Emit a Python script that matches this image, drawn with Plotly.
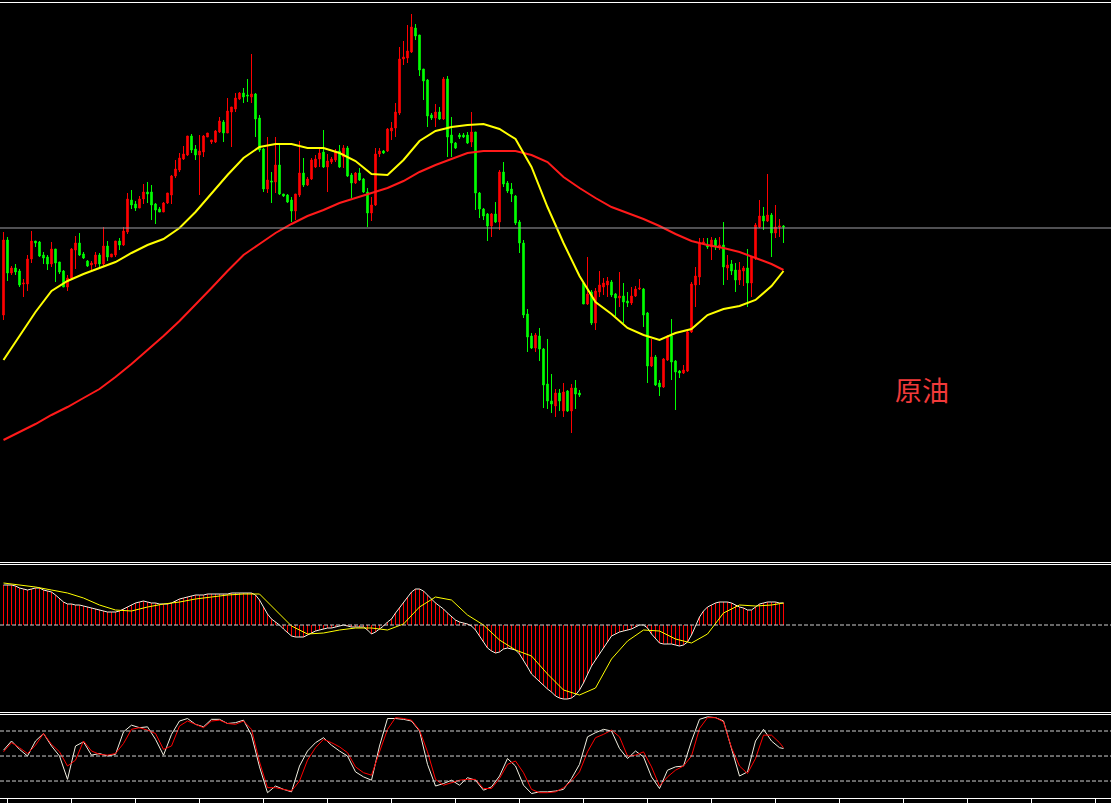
import plotly.graph_objects as go

# Data

candle_open = [
    68.5, 76.0, 72.7, 73.2, 72.9, 71.6, 71.6, 74.1, 75.9, 75.8,
    74.5, 74.3, 73.6, 75.1, 73.8, 72.9, 71.3, 72.2, 75.0, 75.7,
    74.6, 73.9, 73.5, 73.6, 74.5, 73.6, 75.4, 74.3, 74.5, 75.9,
    75.5, 76.8, 80.0, 79.6, 79.2, 80.1, 80.8, 80.8, 79.6, 79.1,
    78.8, 79.7, 80.5, 82.4, 83.0, 84.1, 84.5, 86.4, 85.1, 84.5,
    84.8, 86.3, 85.8, 85.8, 86.8, 87.8, 86.7, 88.8, 89.1, 90.1,
    90.7, 90.5, 90.3, 90.6, 88.2, 85.1, 81.1, 81.9, 81.8, 83.5,
    80.6, 80.5, 80.0, 78.9, 80.5, 82.7, 81.5, 82.1, 83.3, 84.1,
    84.8, 83.3, 83.8, 84.0, 84.9, 84.3, 85.2, 82.5, 81.7, 82.7,
    82.1, 80.8, 78.7, 79.5, 84.6, 84.9, 84.9, 86.9, 87.2, 88.7,
    94.1, 94.2, 94.8, 97.2, 96.5, 93.1, 92.0, 88.5, 88.2, 88.8,
    88.1, 92.1, 86.5, 85.7, 86.5, 86.5, 86.5, 85.8, 86.8, 80.7,
    79.1, 78.6, 77.4, 78.6, 77.8, 82.8, 81.7, 81.1, 80.4, 77.8,
    75.7, 68.6, 66.4, 65.2, 66.4, 65.1, 61.6, 59.9, 59.4, 60.7,
    58.9, 60.9, 58.9, 61.2, 60.7, 71.7, 69.6, 70.8, 67.7, 70.8,
    71.3, 71.5, 71.8, 70.6, 70.2, 70.4, 69.9, 69.7, 70.4, 71.1,
    71.1, 68.7, 63.4, 64.3, 61.7, 61.3, 64.0, 66.4, 63.9, 62.9,
    62.7, 62.9, 66.8, 71.5, 72.3, 75.7, 75.5, 75.3, 76.0, 75.3,
    75.5, 73.2, 73.6, 73.0, 72.0, 72.9, 73.2, 71.7, 74.2, 77.3,
    78.4, 77.9, 78.5, 76.7, 77.3, 77.4,
]
candle_high = [
    76.8, 76.3, 73.4, 73.6, 73.1, 72.1, 74.5, 76.9, 75.9, 75.9,
    74.8, 74.5, 75.8, 75.1, 73.8, 73.0, 72.5, 75.2, 76.4, 76.7,
    74.8, 74.0, 73.9, 74.8, 74.7, 77.3, 75.9, 74.6, 75.9, 76.2,
    77.3, 80.7, 81.0, 79.9, 80.4, 81.6, 81.8, 81.5, 79.7, 79.3,
    79.8, 80.7, 82.5, 84.0, 84.7, 85.4, 86.4, 86.6, 85.5, 86.5,
    86.5, 86.7, 86.0, 87.0, 88.3, 88.0, 90.2, 89.3, 90.7, 90.8,
    91.2, 92.1, 94.6, 90.7, 88.5, 85.2, 86.3, 82.8, 86.3, 85.7,
    80.6, 80.6, 80.3, 80.6, 85.9, 84.2, 82.3, 84.2, 84.5, 85.3,
    87.0, 84.6, 84.3, 85.1, 85.5, 85.5, 85.4, 82.7, 82.8, 83.2,
    82.2, 81.2, 80.3, 85.2, 85.2, 85.0, 87.2, 87.8, 89.7, 95.3,
    95.9, 97.5, 98.6, 97.6, 96.5, 93.1, 92.1, 88.7, 89.6, 89.3,
    92.3, 92.4, 88.3, 85.8, 86.7, 86.7, 86.8, 88.8, 86.8, 80.8,
    79.2, 78.7, 78.7, 79.8, 83.0, 83.8, 81.9, 81.7, 80.5, 78.0,
    76.0, 69.1, 66.7, 66.7, 67.2, 65.2, 66.1, 62.6, 61.1, 61.1,
    61.7, 61.0, 61.6, 62.0, 61.0, 71.8, 74.3, 71.0, 71.2, 72.9,
    72.2, 72.3, 72.0, 70.7, 72.8, 71.7, 70.8, 71.3, 71.4, 72.1,
    71.2, 68.8, 66.1, 64.5, 62.0, 64.2, 66.5, 68.1, 64.0, 63.0,
    63.5, 67.0, 71.8, 73.3, 76.2, 76.2, 76.2, 76.3, 76.2, 76.3,
    77.8, 74.5, 74.0, 73.7, 73.8, 73.4, 75.1, 74.4, 77.7, 80.0,
    79.3, 82.6, 78.7, 79.5, 78.1, 77.5,
]
candle_low = [
    68.0, 71.9, 72.5, 72.5, 71.3, 70.3, 70.9, 73.7, 75.3, 74.3,
    73.6, 73.0, 73.3, 71.8, 72.6, 71.3, 70.9, 72.0, 73.1, 74.4,
    74.1, 73.3, 72.9, 73.3, 73.2, 73.3, 73.9, 74.3, 74.3, 75.0,
    75.4, 76.6, 79.1, 78.9, 79.2, 79.6, 79.7, 78.0, 77.6, 78.8,
    78.8, 79.6, 79.6, 82.2, 82.8, 84.0, 84.4, 84.7, 84.0, 80.5,
    84.3, 86.3, 85.6, 85.7, 86.7, 85.8, 86.7, 85.3, 88.8, 90.0,
    89.7, 89.8, 89.7, 86.3, 84.8, 80.8, 80.7, 79.7, 80.7, 80.5,
    80.3, 79.7, 77.8, 78.0, 80.3, 81.3, 81.4, 82.0, 83.2, 83.3,
    83.2, 80.8, 83.6, 83.8, 83.2, 83.2, 82.3, 80.2, 81.6, 81.9,
    80.7, 77.3, 77.9, 79.4, 84.3, 84.6, 84.8, 86.0, 86.3, 88.5,
    93.5, 93.7, 94.7, 96.0, 92.4, 90.0, 87.3, 88.0, 87.3, 88.0,
    88.0, 84.3, 84.3, 85.1, 86.1, 86.2, 85.6, 85.3, 79.0, 78.2,
    78.0, 75.9, 76.3, 77.7, 77.0, 81.3, 80.7, 79.8, 77.5, 74.7,
    68.2, 64.8, 65.1, 64.8, 63.9, 59.2, 59.1, 58.7, 58.3, 58.9,
    58.3, 58.8, 56.7, 59.1, 60.3, 69.6, 69.5, 67.5, 67.0, 70.3,
    70.5, 70.3, 70.3, 68.4, 69.3, 67.7, 69.3, 69.5, 70.3, 71.0,
    67.3, 61.7, 63.3, 61.4, 60.4, 61.2, 63.9, 62.0, 59.0, 62.2,
    62.6, 62.8, 66.7, 69.3, 71.5, 75.6, 75.1, 74.0, 75.0, 75.0,
    71.5, 72.0, 72.5, 70.8, 71.5, 71.4, 69.3, 70.3, 74.0, 77.2,
    77.0, 77.8, 74.3, 76.2, 76.3, 75.7,
]
candle_close = [
    76.0, 72.7, 73.2, 72.8, 71.5, 71.7, 74.1, 75.9, 75.7, 74.4,
    74.2, 73.6, 75.1, 73.7, 72.8, 71.3, 72.2, 75.1, 75.7, 74.5,
    74.2, 73.4, 73.7, 74.5, 73.6, 75.4, 74.3, 74.6, 75.9, 75.5,
    76.9, 80.1, 79.5, 79.2, 80.1, 80.8, 80.6, 79.5, 79.0, 78.8,
    79.7, 80.7, 82.4, 83.1, 84.2, 84.6, 86.4, 85.0, 84.5, 84.9,
    86.4, 86.7, 86.0, 86.9, 87.9, 86.7, 88.9, 89.3, 90.2, 90.7,
    90.3, 90.4, 90.6, 88.1, 85.0, 81.1, 82.0, 81.8, 83.5, 80.6,
    80.4, 79.8, 78.9, 80.6, 82.7, 81.5, 82.1, 84.0, 84.1, 84.7,
    83.3, 83.9, 84.1, 84.9, 83.3, 85.2, 82.4, 81.7, 82.7, 82.0,
    80.8, 78.7, 79.5, 84.6, 84.9, 84.7, 87.1, 87.2, 88.8, 94.1,
    94.3, 94.9, 97.3, 96.4, 93.0, 91.9, 88.4, 88.2, 88.8, 88.1,
    92.1, 86.3, 85.7, 85.2, 86.3, 86.3, 85.7, 86.8, 80.7, 79.1,
    78.4, 77.4, 78.6, 77.8, 82.8, 81.6, 80.9, 80.6, 77.7, 75.7,
    68.5, 66.3, 65.2, 66.5, 65.1, 61.5, 59.9, 59.6, 60.7, 59.9,
    60.8, 58.9, 61.2, 60.6, 60.5, 69.6, 70.6, 67.7, 70.9, 71.5,
    71.7, 71.9, 70.5, 70.2, 70.4, 69.8, 69.7, 70.4, 71.1, 71.2,
    68.5, 63.4, 64.3, 61.5, 61.3, 64.1, 66.4, 63.8, 62.8, 62.7,
    63.0, 66.8, 71.6, 72.4, 75.7, 75.8, 75.3, 76.0, 75.3, 75.5,
    73.3, 73.5, 72.9, 72.0, 73.0, 73.2, 71.7, 74.3, 77.5, 78.4,
    77.9, 78.5, 76.7, 77.3, 77.4, 77.3,
]
bars = list(range(len(candle_close)))
bid_level = 77.2

# moving averages, read every 4th bar
ma_bars = list(range(0, 193, 4)) + [195]
ma_fast = [
    64.0, 66.4, 68.8, 70.9, 71.9, 72.6, 73.2, 73.8, 74.7, 75.5,
    76.1, 77.2, 78.8, 80.7, 82.5, 84.2, 85.3, 85.6, 85.6, 85.2,
    85.2, 84.7, 83.9, 82.6, 82.5, 84.0, 85.9, 86.9, 87.3, 87.5,
    87.6, 87.1, 86.1, 83.3, 79.3, 75.7, 72.4, 69.8, 68.6, 67.2,
    66.5, 66.0, 66.7, 67.1, 68.5, 69.1, 69.4, 70.0, 71.4, 72.9,
]
ma_slow = [
    56.0, 56.8, 57.6, 58.5, 59.3, 60.2, 61.1, 62.3, 63.6, 65.0,
    66.4, 67.9, 69.5, 71.2, 72.9, 74.5, 75.6, 76.7, 77.6, 78.4,
    79.0, 79.7, 80.2, 80.7, 81.2, 81.9, 82.8, 83.5, 84.1, 84.7,
    84.9, 84.9, 84.9, 84.5, 83.8, 82.3, 81.2, 80.2, 79.3, 78.7,
    78.1, 77.4, 76.6, 75.9, 75.5, 75.2, 74.8, 74.2, 73.6, 73.0,
]

# MACD main (every bar) and signal (every 4th bar)
macd_main = [
    0.40, 0.40, 0.40, 0.39, 0.37, 0.36, 0.35, 0.36, 0.37, 0.37,
    0.35, 0.34, 0.33, 0.30, 0.26, 0.23, 0.21, 0.21, 0.20, 0.20,
    0.19, 0.18, 0.17, 0.16, 0.15, 0.14, 0.13, 0.13, 0.13, 0.14,
    0.16, 0.18, 0.20, 0.22, 0.23, 0.24, 0.23, 0.22, 0.22, 0.21,
    0.21, 0.21, 0.22, 0.24, 0.26, 0.27, 0.28, 0.29, 0.30, 0.30,
    0.30, 0.31, 0.31, 0.31, 0.31, 0.31, 0.31, 0.32, 0.32, 0.32,
    0.32, 0.32, 0.32, 0.30, 0.25, 0.18, 0.11, 0.06, 0.03, 0.00,
    -0.04, -0.08, -0.11, -0.12, -0.12, -0.12, -0.10, -0.08, -0.06, -0.05,
    -0.04, -0.03, -0.03, -0.02, -0.01, 0.00, -0.01, -0.02, -0.02, -0.02,
    -0.02, -0.05, -0.09, -0.07, -0.04, -0.01, 0.03, 0.06, 0.12, 0.17,
    0.22, 0.28, 0.33, 0.36, 0.36, 0.34, 0.30, 0.25, 0.22, 0.19,
    0.16, 0.12, 0.08, 0.05, 0.03, 0.02, 0.01, -0.01, -0.05, -0.11,
    -0.17, -0.23, -0.26, -0.28, -0.27, -0.24, -0.23, -0.24, -0.25, -0.29,
    -0.35, -0.42, -0.49, -0.53, -0.56, -0.60, -0.64, -0.67, -0.71, -0.73,
    -0.74, -0.74, -0.73, -0.70, -0.65, -0.58, -0.50, -0.41, -0.35, -0.29,
    -0.23, -0.17, -0.11, -0.09, -0.07, -0.06, -0.05, -0.04, -0.02, 0.00,
    0.00, -0.03, -0.09, -0.14, -0.18, -0.19, -0.19, -0.19, -0.20, -0.21,
    -0.20, -0.17, -0.10, -0.01, 0.08, 0.14, 0.18, 0.20, 0.22, 0.23,
    0.23, 0.23, 0.22, 0.20, 0.18, 0.17, 0.15, 0.15, 0.18, 0.21,
    0.22, 0.23, 0.23, 0.23, 0.22, 0.22,
]
macd_signal = [
    0.42, 0.40, 0.38, 0.35, 0.32, 0.27, 0.20, 0.15, 0.14, 0.18,
    0.21, 0.23, 0.26, 0.28, 0.30, 0.31, 0.31, 0.15, -0.01, -0.09,
    -0.08, -0.05, -0.03, -0.03, -0.05, 0.01, 0.18, 0.28, 0.25, 0.10,
    0.00, -0.15, -0.25, -0.31, -0.49, -0.65, -0.70, -0.63, -0.34, -0.16,
    -0.05, -0.06, -0.14, -0.18, -0.09, 0.12, 0.20, 0.19, 0.20, 0.22,
]

# Stochastic %K / %D, read every 2nd bar
stoch_bars = list(range(0, 195, 2)) + [195]
stoch_k = [
    57, 68, 58, 50, 68, 77, 62, 50, 22, 62, 67, 51, 53, 50, 52, 79, 87, 84, 85, 70,
    51, 76, 92, 95, 88, 85, 94, 94, 89, 90, 93, 75, 37, 6, 14, 10, 7, 38, 56, 66,
    72, 63, 56, 50, 31, 25, 21, 62, 95,
    95, 94, 92, 80, 40, 14, 17, 21, 15, 24, 21, 9, 13, 26, 47, 38, 15, 5, 7, 7,
    8, 10, 23, 40, 73, 78, 82, 80, 59, 47, 56, 49, 25, 11, 33, 37, 38, 68, 94, 97,
    96, 92, 60, 26, 31, 68, 82, 68, 60, 59,
]
stoch_d = [
    55, 66, 60, 53, 63, 77, 64, 55, 38, 45, 68, 56, 52, 51, 53, 65, 82, 84, 81, 77,
    58, 62, 86, 92, 88, 84, 92, 93, 89, 88, 92, 82, 43, 12, 12, 10, 8, 20, 45, 60,
    70, 66, 61, 54, 37, 30, 27, 55, 82,
    96, 95, 93, 81, 55, 22, 15, 18, 21, 22, 22, 11, 11, 23, 40, 44, 30, 10, 6, 6,
    7, 12, 20, 31, 55, 72, 76, 81, 73, 50, 51, 55, 37, 14, 25, 33, 38, 50, 83, 96,
    96, 91, 60, 38, 29, 47, 75, 75, 66, 60,
]
stoch_levels = [20, 50, 80]

# Figure
W, H = 1111, 803
x_range = [-0.875, 276.875]
grid_col = '#cfcfcf'
level_dash = '4px,2px'

fig = go.Figure()

fig.add_trace(go.Candlestick(x=bars, open=candle_open, high=candle_high,
                             low=candle_low, close=candle_close,
                             increasing=dict(line=dict(color='#ff0000', width=1), fillcolor='#ff0000'),
                             decreasing=dict(line=dict(color='#00ff00', width=1), fillcolor='#00ff00'),
                             whiskerwidth=0, xaxis='x', yaxis='y'))
fig.add_trace(go.Scatter(x=ma_bars, y=ma_slow, mode='lines',
                         line=dict(color='#ff1a1a', width=2), xaxis='x', yaxis='y'))
fig.add_trace(go.Scatter(x=ma_bars, y=ma_fast, mode='lines',
                         line=dict(color='#ffff00', width=2), xaxis='x', yaxis='y'))

# MACD histogram as thin vertical sticks from zero to each value
hist_x, hist_y = [], []
for b, v in zip(bars, macd_main):
    hist_x += [b, b, None]
    hist_y += [0, v, None]
fig.add_trace(go.Scatter(x=hist_x, y=hist_y, mode='lines', connectgaps=False,
                         line=dict(color='#ff0000', width=1), xaxis='x2', yaxis='y2'))
fig.add_trace(go.Scatter(x=bars, y=macd_main, mode='lines',
                         line=dict(color='#f2efe0', width=1), xaxis='x2', yaxis='y2'))
fig.add_trace(go.Scatter(x=ma_bars, y=macd_signal, mode='lines',
                         line=dict(color='#ffff00', width=1), xaxis='x2', yaxis='y2'))

fig.add_trace(go.Scatter(x=stoch_bars, y=stoch_k, mode='lines',
                         line=dict(color='#f2efe0', width=1), xaxis='x3', yaxis='y3'))
fig.add_trace(go.Scatter(x=stoch_bars, y=stoch_d, mode='lines',
                         line=dict(color='#ff0000', width=1), xaxis='x3', yaxis='y3'))

# reference lines
fig.add_hline(y=bid_level, line=dict(color='#a0a0a6', width=1), xref='x', yref='y')
fig.add_shape(type='line', xref='paper', yref='y2', x0=0, x1=1, y0=0, y1=0,
              line=dict(color=grid_col, width=1, dash=level_dash))
for lv in stoch_levels:
    fig.add_shape(type='line', xref='paper', yref='y3', x0=0, x1=1, y0=lv, y1=lv,
                  line=dict(color=grid_col, width=1, dash=level_dash))

# window borders (white double lines between panes)
for py in [2.5, 562.5, 564.5, 712.5, 714.5, 798.5]:
    fig.add_shape(type='line', xref='paper', yref='paper', x0=0, x1=1,
                  y0=1 - py / H, y1=1 - py / H, line=dict(color='#ffffff', width=1))

fig.add_annotation(text='原油', xref='paper', yref='paper', x=922 / W, y=1 - 390 / H,
                   showarrow=False, xanchor='center', yanchor='middle',
                   font=dict(family='Noto Sans CJK SC', size=27, color='#f23a3a'))

axis_off = dict(showgrid=False, zeroline=False, showticklabels=False, showline=False, ticks='')
fig.update_layout(
    width=W, height=H,
    margin=dict(l=0, r=0, t=0, b=0),
    paper_bgcolor='#000000', plot_bgcolor='#000000',
    showlegend=False, boxgap=0.45,
    xaxis=dict(axis_off, range=x_range, anchor='y', rangeslider=dict(visible=False)),
    xaxis2=dict(axis_off, range=x_range, anchor='y2', matches='x'),
    xaxis3=dict(showgrid=False, zeroline=False, showticklabels=False, range=x_range,
                anchor='y3', matches='x', showline=False, ticks='outside', ticklen=5,
                tickcolor='#ffffff', tickwidth=1, tickvals=list(range(1, 277, 16))),
    yaxis=dict(axis_off, range=[43.9, 99.7], domain=[1 - 561 / H, 1 - 3 / H]),
    yaxis2=dict(axis_off, range=[-0.87, 0.60], domain=[1 - 712 / H, 1 - 565 / H]),
    yaxis3=dict(axis_off, range=[-0.36, 99.2], domain=[1 - 798 / H, 1 - 715 / H]),
)

# the page body has a default 8px margin; drop it so the chart fills the window
fig.write_html("out.html", config={'displayModeBar': False},
               post_script="document.body.style.margin='0px';")
